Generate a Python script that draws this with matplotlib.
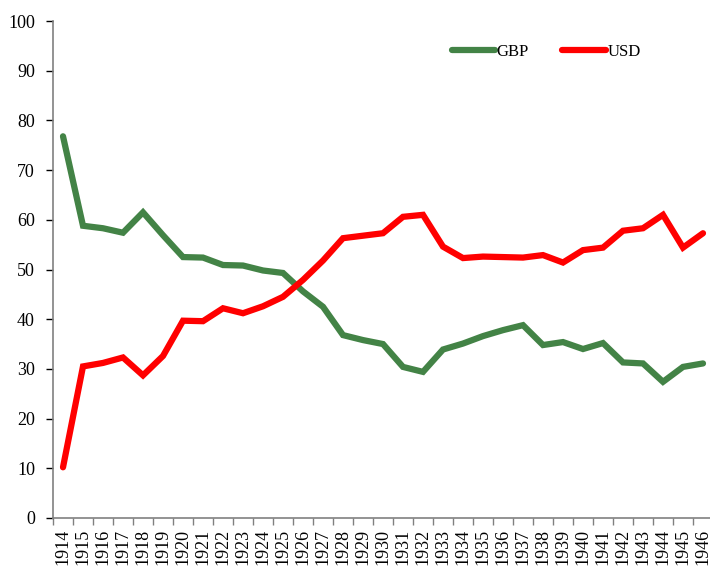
import numpy as np
import matplotlib
matplotlib.use("Agg")
import matplotlib.pyplot as plt
from matplotlib.ticker import MultipleLocator

years = list(range(1914, 1947))
gbp = [76.8, 58.8, 58.3, 57.4, 61.5, 56.9, 52.5, 52.4, 50.9, 50.8, 49.8,
       49.3, 45.6, 42.5, 36.8, 35.8, 35.0, 30.4, 29.4, 33.9, 35.1, 36.6,
       37.8, 38.8, 34.8, 35.4, 34.0, 35.2, 31.3, 31.1, 27.4, 30.4, 31.1]
usd = [10.2, 30.5, 31.2, 32.3, 28.7, 32.6, 39.7, 39.6, 42.2, 41.2, 42.6,
       44.5, 47.9, 51.8, 56.3, 56.8, 57.3, 60.6, 61.0, 54.6, 52.3, 52.6,
       52.5, 52.4, 52.9, 51.4, 53.9, 54.4, 57.8, 58.3, 61.0, 54.4, 57.3]

plt.rcParams["font.family"] = ["Liberation Serif", "DejaVu Serif"]

fig = plt.figure(figsize=(7.1, 5.66), dpi=100)
ax = fig.add_axes([53 / 710, 48 / 566, 660 / 710, 497 / 566])

x = np.arange(len(years))
ax.plot(x, gbp, color="#438346", lw=4.5, label="GBP", solid_capstyle="round",
        solid_joinstyle="miter")
ax.plot(x, usd, color="#ff0000", lw=4.5, label="USD", solid_capstyle="round",
        solid_joinstyle="miter")

ax.set_xlim(-0.5, len(years) - 0.5)
ax.set_ylim(0, 100)
ax.yaxis.set_major_locator(MultipleLocator(10))
ax.set_xticks(x)
ax.set_xticklabels([str(y) for y in years], rotation=90, fontsize=13)
ax.set_xticks(np.arange(-0.5, len(years)), minor=True)
ax.tick_params(axis="x", which="major", length=0, pad=8)
ax.tick_params(axis="x", which="minor", length=5, color="#808080", width=1)
ax.tick_params(axis="y", which="major", length=5, width=1, labelsize=13, pad=8)

for s in ["top", "right"]:
    ax.spines[s].set_visible(False)
for s in ["left", "bottom"]:
    ax.spines[s].set_color("#808080")
    ax.spines[s].set_linewidth(1.2)

ax.legend(loc="center", bbox_to_anchor=(546 / 710, 1 - 52 / 566),
          bbox_transform=fig.transFigure, ncol=2, frameon=False,
          fontsize=12, handlelength=2.6, handletextpad=0.1, columnspacing=2.0)

fig.savefig("out.png", dpi=100)
